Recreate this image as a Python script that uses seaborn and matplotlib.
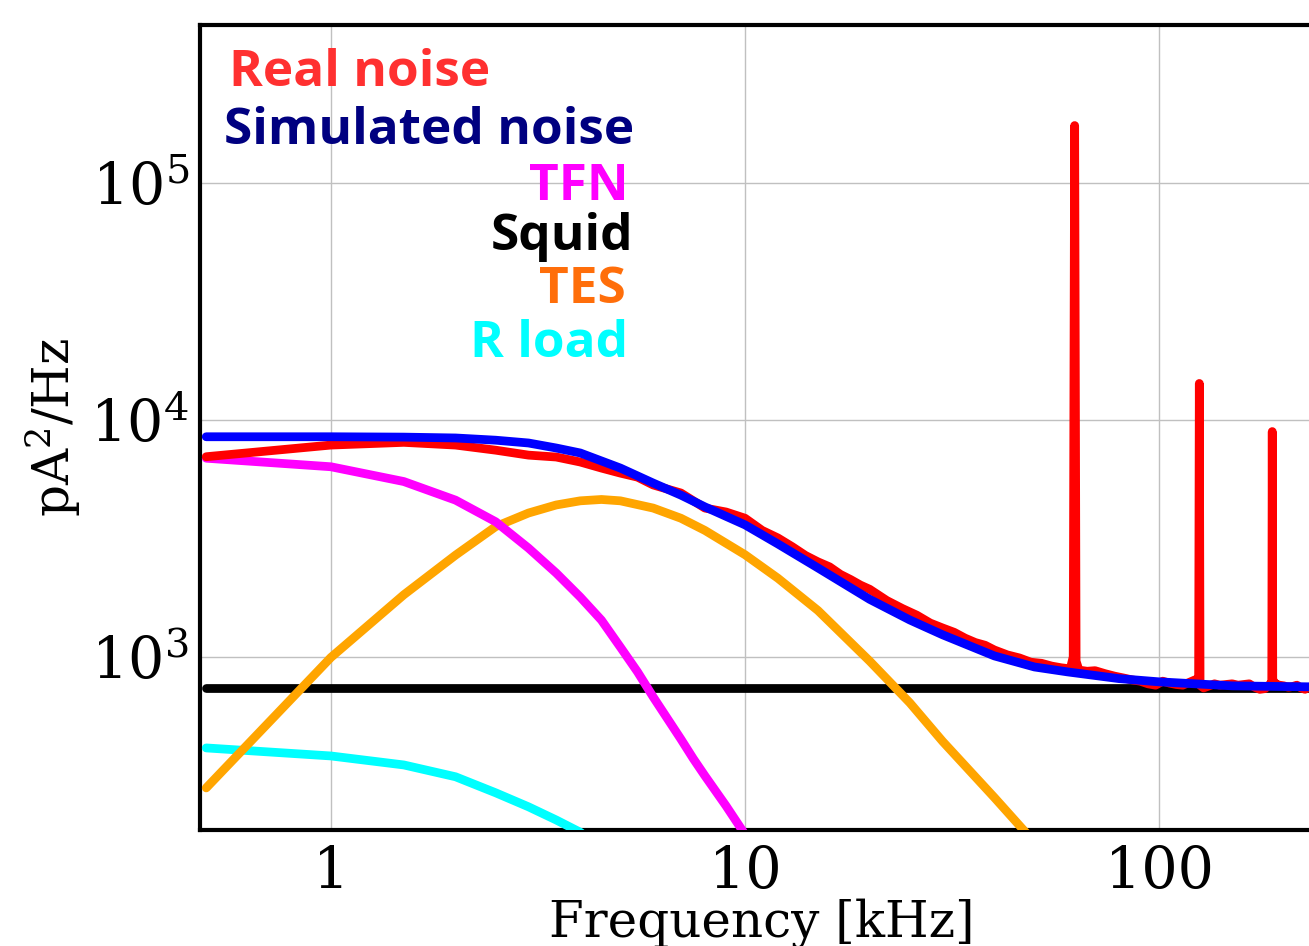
import matplotlib
matplotlib.use("Agg")
import matplotlib.pyplot as plt
import seaborn as sns

# =============================
# DATA (kHz vs pA^2/Hz)
# =============================
freq_real = [0.5, 1.0, 1.5, 2.0, 2.5, 3.0, 3.5, 4.0, 4.5, 5.0, 5.5, 6.0, 7.0, 8.0, 9.0,
             10, 11, 12, 13, 14, 15, 16, 17, 18, 19, 20, 22, 24, 26, 28, 30, 32, 34, 36,
             38, 40, 43, 46, 49, 52, 55, 58, 61, 62, 62.5, 63, 64, 67, 70, 74, 78, 82, 86,
             90, 94, 98, 102, 106, 110, 114, 118, 122, 124.5, 125, 125.5, 128, 132, 136,
             140, 145, 150, 155, 160, 165, 170, 175, 180, 184, 187, 187.5, 188, 191, 195,
             200, 205, 210, 215, 220, 225, 230, 240, 250]
psd_real = [7000, 7840, 8050, 7840, 7460, 7110, 6980, 6650, 6270, 5970, 5740, 5320, 4920,
            4250, 4090, 3850, 3420, 3180, 2920, 2680, 2520, 2400, 2230, 2120, 2010, 1930,
            1730, 1600, 1500, 1390, 1325, 1270, 1200, 1150, 1120, 1070, 1020, 990, 950,
            940, 915, 900, 890, 1000, 175000, 960, 880, 870, 875, 850, 830, 815, 800, 790,
            770, 760, 790, 775, 765, 760, 780, 800, 790, 14270, 760, 740, 755, 770, 760,
            765, 770, 760, 765, 770, 745, 730, 735, 760, 780, 8940, 800, 770, 760, 755,
            745, 750, 760, 740, 730, 745, 750, 745]

freq_sim = [0.5, 1.0, 1.5, 2.0, 2.5, 3.0, 3.5, 4.0, 5.0, 6.0, 7.0, 8.0, 10, 12, 15, 20,
            25, 30, 40, 50, 60, 80, 100, 150, 200, 250]
psd_sim = [8500, 8500, 8470, 8400, 8220, 8000, 7620, 7260, 6270, 5420, 4820, 4300, 3610,
           3000, 2375, 1750, 1432, 1240, 1010, 907, 865, 810, 785, 755, 750, 747]

freq_tfn = [0.5, 1.0, 1.5, 2.0, 2.5, 3.0, 3.5, 4.0, 4.5, 5.0, 5.5, 6.0, 6.5, 7.0, 7.5,
            8.0, 9.0, 10, 12, 15]
psd_tfn = [6900, 6350, 5500, 4590, 3720, 2880, 2260, 1790, 1430, 1100, 865, 678, 548,
           450, 372, 315, 235, 178, 90, 40]

freq_squid = [0.5, 250]
psd_squid = [740, 740]

freq_tes = [0.5, 1.0, 1.5, 2.0, 2.5, 3.0, 3.5, 4.0, 4.5, 5.0, 6.0, 7.0, 8.0, 10, 12, 15,
            20, 25, 30, 40, 50, 60]
psd_tes = [280, 995, 1830, 2690, 3550, 4050, 4380, 4560, 4620, 4560, 4250, 3850, 3420,
           2700, 2150, 1570, 960, 640, 440, 255, 165, 115]

freq_rload = [0.5, 1.0, 1.5, 2.0, 2.5, 3.0, 3.5, 4.0, 5.0, 6.0]
psd_rload = [413, 382, 350, 312, 267, 233, 205, 182, 135, 100]

labels = ["Real noise", "Simulated noise", "TFN", "Squid", "TES", "R load"]
label_colors = ["#ff3030", "#000080", "#ff00ff", "#000000", "#ff6e0a", "#00ffff"]

# =============================
# STYLE
# =============================
sns.set_style("white")
plt.rcParams["font.family"] = ["DejaVu Serif"]
plt.rcParams["mathtext.fontset"] = "dejavuserif"
for key in ["text.color", "axes.labelcolor", "xtick.color", "ytick.color"]:
    plt.rcParams[key] = "black"

fig = plt.figure(figsize=(13.09, 9.46), dpi=100)
# axes runs past the right border, as in the cropped original
ax = fig.add_axes([200 / 1309, 116 / 946, 1124 / 1309, 805 / 946])

lw = 6.3
sns.lineplot(x=freq_squid, y=psd_squid, ax=ax, color="black", lw=lw, zorder=2)
sns.lineplot(x=freq_rload, y=psd_rload, ax=ax, color="#00ffff", lw=lw, zorder=3)
sns.lineplot(x=freq_tes, y=psd_tes, ax=ax, color="#ffa500", lw=lw, zorder=4)
sns.lineplot(x=freq_tfn, y=psd_tfn, ax=ax, color="#ff00ff", lw=lw, zorder=5)
sns.lineplot(x=freq_real, y=psd_real, ax=ax, color="#ff0000", lw=lw, zorder=6,
             solid_joinstyle="round", solid_capstyle="round")
sns.lineplot(x=freq_sim, y=psd_sim, ax=ax, color="#0000ff", lw=lw, zorder=7)

ax.set_xscale("log")
ax.set_yscale("log")
ax.set_xlim(0.483, 250)
ax.set_ylim(186, 4.65e5)
ax.set_xticks([1, 10, 100])
ax.set_xticklabels(["1", "10", "100"])

ax.grid(True, which="major", color="#c0c0c0", lw=1.0)
ax.set_axisbelow(True)
for s in ax.spines.values():
    s.set_color("black")
    s.set_linewidth(3)

ax.tick_params(which="major", direction="out", length=4, width=1, labelsize=41)
ax.tick_params(axis="x", which="major", pad=6)
ax.tick_params(axis="y", which="major", pad=4)
ax.tick_params(which="minor", direction="in", length=3, width=0.8)

ax.set_xlabel("Frequency [kHz]", fontsize=36)
ax.set_ylabel(r"pA$^2$/Hz", fontsize=36)
ax.xaxis.set_label_coords(0.5, -0.085)
ax.yaxis.set_label_coords(-0.104, 0.5)

# =============================
# COLOURED LABELS (legend-like text)
# =============================
fig.text(229 / 1309, 1 - 86 / 946, labels[0], color=label_colors[0], ha="left",
         va="baseline", family="Open Sans", weight="bold", fontsize=37)
right_x = [634, 629, 633, 626, 628]
baselines = [144, 200, 250, 303, 357]
for lab, col, rx, by in zip(labels[1:], label_colors[1:], right_x, baselines):
    fig.text(rx / 1309, 1 - by / 946, lab, color=col, ha="right", va="baseline",
             family="Open Sans", weight="bold", fontsize=37)

fig.savefig("out.png", dpi=100)
